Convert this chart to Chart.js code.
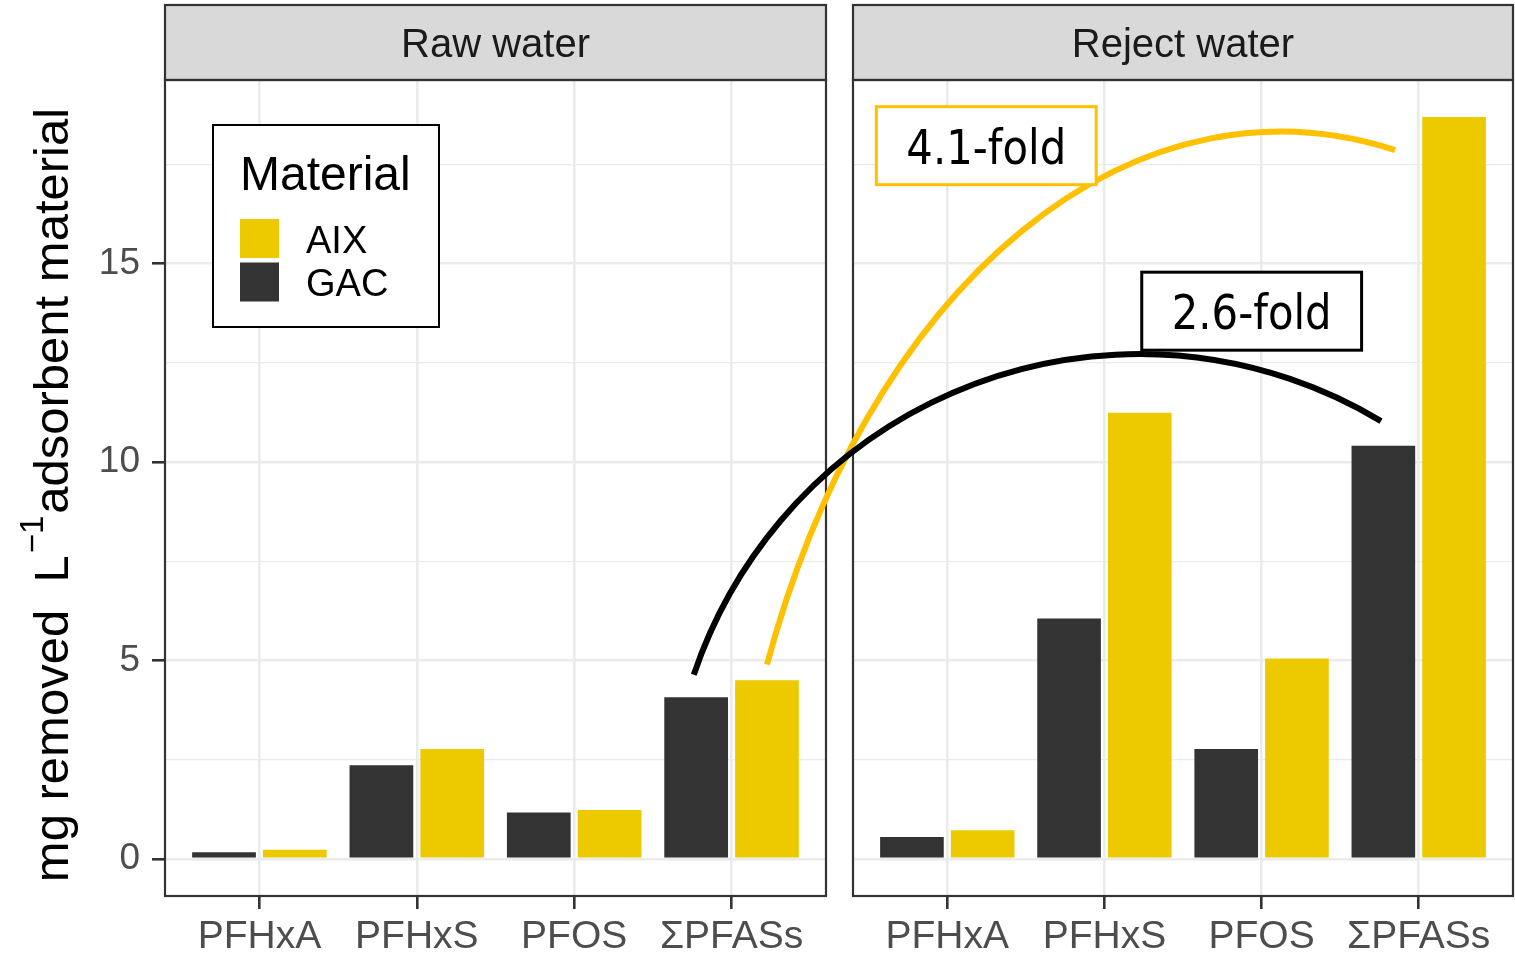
<!DOCTYPE html>
<html lang="en">
<head>
<meta charset="UTF-8">
<title>PFAS removal by AIX and GAC</title>
<script src="https://cdn.jsdelivr.net/npm/chart.js"></script>
<style>
    body { margin: 0; background: #fff; }
    #wrap { position: relative; width: 1515px; height: 956px; }
    #wrap canvas { position: absolute; top: 0; }
</style>
</head>
<body>
<div id="wrap">
    <canvas id="rawChart" width="840" height="956" style="left:0"></canvas>
    <canvas id="rejectChart" width="675" height="956" style="left:840px"></canvas>
    <canvas id="overlay" width="1515" height="956" style="left:0;pointer-events:none"></canvas>
</div>
<script>
    // data
    var categories = ["PFHxA", "PFHxS", "PFOS", "\u03A3PFASs"];
    var panels = ["Raw water", "Reject water"];
    var materials = ["AIX", "GAC"];
    var rawGAC = [0.17, 2.36, 1.17, 4.07];
    var rawAIX = [0.23, 2.77, 1.23, 4.50];
    var rejectGAC = [0.55, 6.06, 2.77, 10.41];
    var rejectAIX = [0.72, 11.24, 5.05, 18.69];
    var yTicks = [0, 2.5, 5, 7.5, 10, 12.5, 15, 17.5];

    var colAIX = "#EDC900";
    var colGAC = "#333333";
    var FONT = "'Liberation Sans', Arial, sans-serif";

    // annotations (data units of the reject panel, ends in their own panel)
    var arcGAC = { color: "#000000", from: 3.76, to: 3.76, center: [2.222, 0.83], radius: [2.993, 11.89] };
    var arcAIX = { color: "#FFC000", from: 4.225, to: 3.85, center: [3.121, -3.545], radius: [3.543, 21.87] };
    var labelAIX = { text: "4.1-fold", at: [1.248, 17.97], color: "#FFC000" };
    var labelGAC = { text: "2.6-fold", at: [2.937, 13.8], color: "#000000" };

    var allValues = rawGAC.concat(rawAIX, rejectGAC, rejectAIX);
    var yMaxData = Math.max.apply(null, allValues);
    var yPad = yMaxData * 0.05;

    function points(arr) {
        return arr.map(function (v, i) { return { x: i + 1, y: v }; });
    }

    function isMajor(v) { return v % 5 === 0; }

    function panelPlugin(title) {
        return {
            id: "panel",
            afterDraw: function (chart) {
                var ctx = chart.ctx, a = chart.chartArea;
                ctx.save();
                ctx.fillStyle = "#D9D9D9";
                ctx.fillRect(a.left, 5, a.right - a.left, a.top - 5);
                ctx.strokeStyle = "#333333";
                ctx.lineWidth = 2.2;
                ctx.strokeRect(a.left, 5, a.right - a.left, a.top - 5);
                ctx.strokeRect(a.left, a.top, a.right - a.left, a.bottom - a.top);
                ctx.fillStyle = "#1A1A1A";
                ctx.font = "40px " + FONT;
                ctx.textAlign = "center";
                ctx.textBaseline = "alphabetic";
                ctx.fillText(title, (a.left + a.right) / 2, 57);
                ctx.restore();
            }
        };
    }

    var legendPlugin = {
        id: "materialLegend",
        afterDraw: function (chart) {
            var ctx = chart.ctx, a = chart.chartArea;
            var x0 = a.left + 48, y0 = a.top + 45;
            ctx.save();
            ctx.fillStyle = "#fff";
            ctx.fillRect(x0, y0, 226, 202);
            ctx.strokeStyle = "#000";
            ctx.lineWidth = 2;
            ctx.strokeRect(x0, y0, 226, 202);
            ctx.fillStyle = "#000";
            ctx.font = "48px " + FONT;
            ctx.textBaseline = "alphabetic";
            ctx.fillText("Material", x0 + 27, y0 + 65);
            ctx.font = "38px " + FONT;
            materials.forEach(function (m, i) {
                var ds = chart.data.datasets.find(function (d) { return d.label === m; });
                var ky = y0 + 94 + i * 43.5;
                ctx.fillStyle = ds.backgroundColor;
                ctx.fillRect(x0 + 27, ky, 39, 39);
                ctx.fillStyle = "#000";
                ctx.fillText(m, x0 + 93, ky + 33.5);
            });
            ctx.restore();
        }
    };

    var yTitlePlugin = {
        id: "yTitle",
        afterDraw: function (chart) {
            var ctx = chart.ctx, a = chart.chartArea;
            var p1 = "mg removed  L", sup = "\u22121", p2 = "adsorbent material";
            ctx.save();
            ctx.font = "49px " + FONT;
            var w1 = ctx.measureText(p1).width, w3 = ctx.measureText(p2).width;
            ctx.font = "33px " + FONT;
            var w2 = ctx.measureText(sup).width;
            var total = w1 + w2 + w3 + 4;
            var mid = (a.top + a.bottom) / 2 + 7;
            ctx.translate(68, mid + total / 2);
            ctx.rotate(-Math.PI / 2);
            ctx.fillStyle = "#000";
            ctx.textAlign = "left";
            ctx.textBaseline = "alphabetic";
            ctx.font = "49px " + FONT;
            ctx.fillText(p1, 0, 0);
            ctx.font = "33px " + FONT;
            ctx.fillText(sup, w1 + 2, -25);
            ctx.font = "49px " + FONT;
            ctx.fillText(p2, w1 + w2 + 4, 0);
            ctx.restore();
        }
    };

    function makeChart(id, title, gac, aix, showY, extraPlugins) {
        return new Chart(document.getElementById(id), {
            type: "bar",
            data: {
                datasets: [
                    { label: "GAC", data: points(gac), backgroundColor: colGAC, borderWidth: 0, categoryPercentage: 0.9, barPercentage: 0.9 },
                    { label: "AIX", data: points(aix), backgroundColor: colAIX, borderWidth: 0, categoryPercentage: 0.9, barPercentage: 0.9 }
                ]
            },
            options: {
                responsive: false,
                animation: false,
                layout: { padding: { top: 80, right: showY ? 14 : 2, left: 0, bottom: 0 } },
                plugins: { legend: { display: false }, tooltip: { enabled: false } },
                scales: {
                    x: {
                        type: "linear",
                        offset: false,
                        min: 0.4,
                        max: categories.length + 0.6,
                        afterBuildTicks: function (s) {
                            s.ticks = categories.map(function (c, i) { return { value: i + 1 }; });
                        },
                        afterFit: function (s) { s.height = 60; },
                        ticks: {
                            callback: function (v) { return categories[v - 1]; },
                            font: { family: FONT, size: 39 },
                            color: "#4D4D4D",
                            padding: 5,
                            maxRotation: 0,
                            autoSkip: false
                        },
                        grid: { offset: false, color: "#EBEBEB", lineWidth: 2.6, tickLength: 13, tickColor: "#333333", tickWidth: 2.6 },
                        border: { display: false }
                    },
                    y: {
                        min: -yPad,
                        max: yMaxData + yPad,
                        afterBuildTicks: function (s) {
                            s.ticks = yTicks.map(function (v) { return { value: v }; });
                        },
                        afterFit: function (s) { s.width = showY ? 165 : 13; },
                        ticks: {
                            display: showY,
                            callback: function (v) { return isMajor(v) ? String(v) : ""; },
                            font: { family: FONT, size: 37 },
                            color: "#4D4D4D",
                            padding: 12
                        },
                        grid: {
                            color: "#EBEBEB",
                            lineWidth: function (c) { return c.tick && isMajor(c.tick.value) ? 2.6 : 1.3; },
                            drawTicks: showY,
                            tickLength: 13,
                            tickWidth: 2.6,
                            tickColor: function (c) { return c.tick && isMajor(c.tick.value) ? "#333333" : "rgba(0,0,0,0)"; }
                        },
                        border: { display: false }
                    }
                }
            },
            plugins: [panelPlugin(title)].concat(extraPlugins)
        });
    }

    var rawChart = makeChart("rawChart", panels[0], rawGAC, rawAIX, true, [legendPlugin, yTitlePlugin]);
    var rejectChart = makeChart("rejectChart", panels[1], rejectGAC, rejectAIX, false, []);

    // curves and fold labels span both panels
    var octx = document.getElementById("overlay").getContext("2d");
    var rejOffset = 840;

    function rejX(v) { return rejectChart.scales.x.getPixelForValue(v) + rejOffset; }
    function rejY(v) { return rejectChart.scales.y.getPixelForValue(v); }
    function rawX(v) { return rawChart.scales.x.getPixelForValue(v); }

    function drawArc(arc) {
        var cx = rejX(arc.center[0]), cy = rejY(arc.center[1]);
        var rx = rejX(arc.center[0] + arc.radius[0]) - cx;
        var ry = cy - rejY(arc.center[1] + arc.radius[1]);
        var xa = rawX(arc.from), xb = rejX(arc.to);
        var clamp = function (t) { return Math.max(-1, Math.min(1, t)); };
        var ta = -Math.acos(clamp((xa - cx) / rx));
        var tb = -Math.acos(clamp((xb - cx) / rx));
        octx.save();
        octx.beginPath();
        octx.ellipse(cx, cy, rx, ry, 0, ta, tb, false);
        octx.strokeStyle = arc.color;
        octx.lineWidth = 6;
        octx.lineCap = "butt";
        octx.stroke();
        octx.restore();
    }

    function drawLabel(lab) {
        var x = rejX(lab.at[0]), y = rejY(lab.at[1]);
        var sx = 0.87;
        octx.save();
        octx.font = "48px 'DejaVu Sans', sans-serif";
        var w = octx.measureText(lab.text).width * sx;
        var bw = w + 60, bh = 78;
        octx.fillStyle = "#fff";
        octx.fillRect(x - bw / 2, y - bh / 2, bw, bh);
        octx.strokeStyle = lab.color;
        octx.lineWidth = 3;
        octx.strokeRect(x - bw / 2, y - bh / 2, bw, bh);
        octx.translate(x, y + 18);
        octx.scale(sx, 1);
        octx.fillStyle = "#000";
        octx.textAlign = "center";
        octx.textBaseline = "alphabetic";
        octx.fillText(lab.text, 0, 0);
        octx.restore();
    }

    drawArc(arcAIX);
    drawArc(arcGAC);
    drawLabel(labelAIX);
    drawLabel(labelGAC);
</script>
</body>
</html>
